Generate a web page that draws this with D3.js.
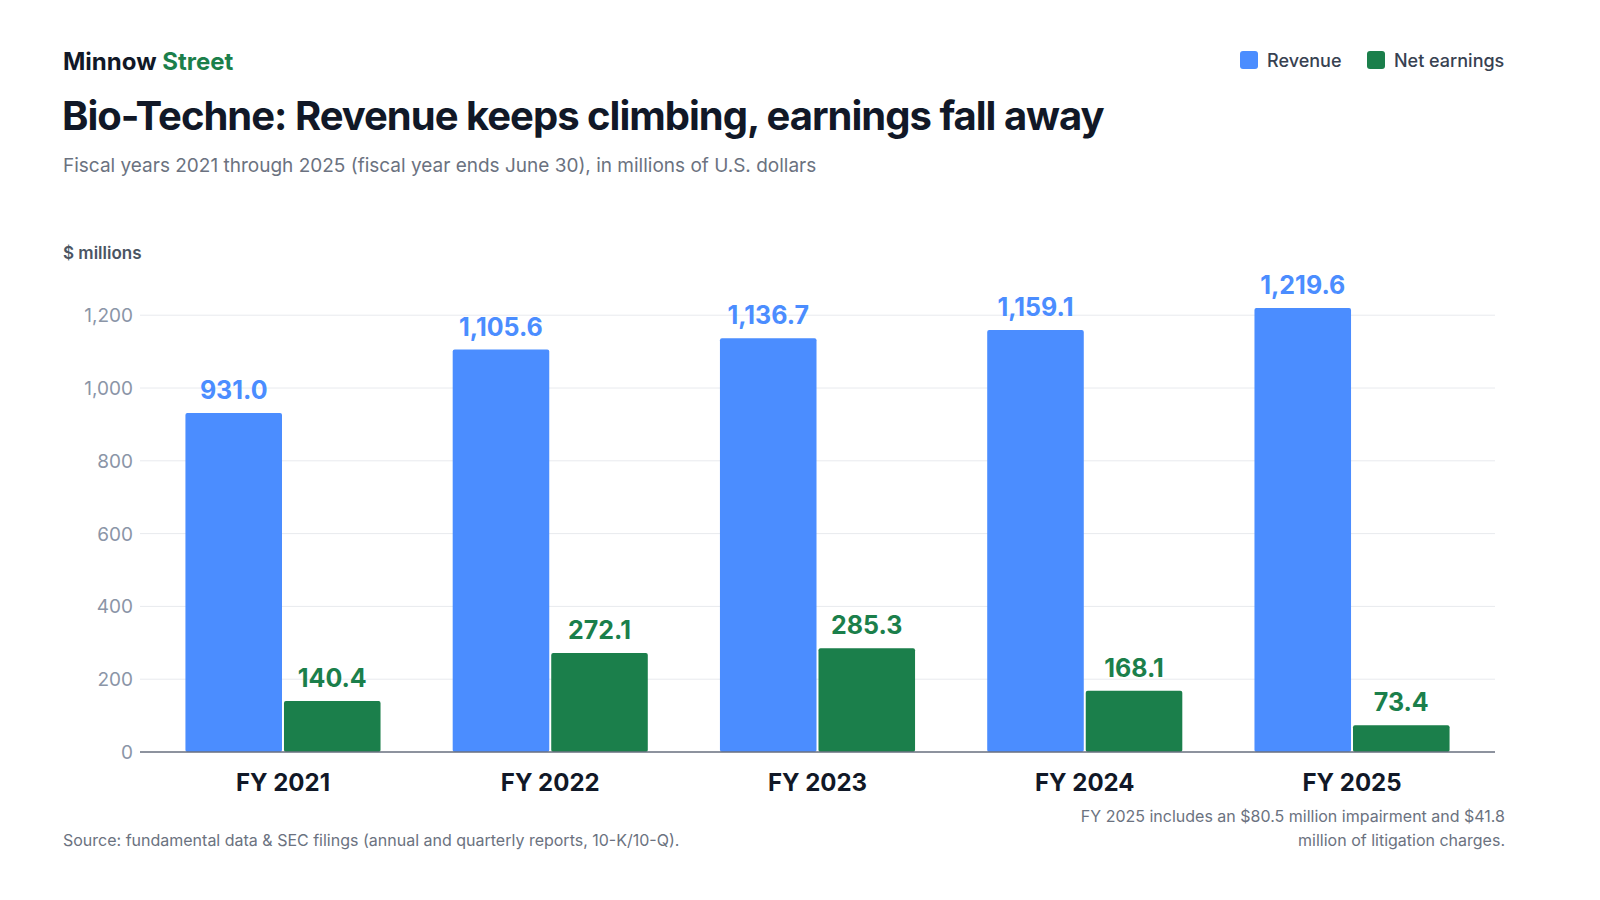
<!DOCTYPE html>
<html><head><meta charset="utf-8">
<script src="https://cdn.jsdelivr.net/npm/d3@7"></script>
<style>body{margin:0;background:#fff;font-family:Inter,"Noto Sans",sans-serif}</style>
</head><body>
<script>
var data = [
  {year: "FY 2021", revenue: 931.0, earnings: 140.4},
  {year: "FY 2022", revenue: 1105.6, earnings: 272.1},
  {year: "FY 2023", revenue: 1136.7, earnings: 285.3},
  {year: "FY 2024", revenue: 1159.1, earnings: 168.1},
  {year: "FY 2025", revenue: 1219.6, earnings: 73.4}
];
var blue = "#4b8dff", green = "#1b7f4b";

var svg = d3.select("body").append("svg").attr("width", 1600).attr("height", 900);

// header
var brand = svg.append("text").attr("x", 63).attr("y", 70).attr("font-size", 24).attr("font-weight", 700);
brand.append("tspan").attr("fill", "#111827").text("Minnow ");
brand.append("tspan").attr("fill", green).text("Street");
svg.append("text").attr("x", 62).attr("y", 130).attr("font-size", 40).attr("font-weight", 700)
  .attr("fill", "#111827").attr("letter-spacing", -1).text("Bio-Techne: Revenue keeps climbing, earnings fall away");
svg.append("text").attr("x", 63).attr("y", 172).attr("font-size", 19).attr("fill", "#6b7280")
  .text("Fiscal years 2021 through 2025 (fiscal year ends June 30), in millions of U.S. dollars");
svg.append("text").attr("x", 63).attr("y", 259).attr("font-size", 17).attr("font-weight", 600).attr("fill", "#4b5563").text("$ millions");

// legend
var legend = [{k: "Revenue", c: blue, x: 1240}, {k: "Net earnings", c: green, x: 1367}];
legend.forEach(function(l) {
  svg.append("rect").attr("x", l.x).attr("y", 51).attr("width", 18).attr("height", 18).attr("rx", 3).attr("fill", l.c);
  svg.append("text").attr("x", l.x + 27).attr("y", 67).attr("font-size", 18).attr("font-weight", 500).attr("fill", "#374151").text(l.k);
});

var margin = {left: 140, right: 1495, top: 297, bottom: 752};
var x0 = d3.scaleBand().domain(data.map(function(d){ return d.year; })).range([margin.left, margin.right]).paddingInner(0.27).paddingOuter(0.17);
var x1 = d3.scaleBand().domain(["revenue", "earnings"]).range([0, x0.bandwidth()]).paddingInner(0.02);
var y = d3.scaleLinear().domain([0, 1250]).range([margin.bottom, margin.top]);

// grid + ticks
y.ticks(5).forEach(function(t) {
  svg.append("line").attr("x1", margin.left).attr("x2", margin.right).attr("y1", y(t)).attr("y2", y(t))
    .attr("stroke", "#e8eaee").attr("stroke-width", 1);
  svg.append("text").attr("x", 133).attr("y", y(t) + 7).attr("text-anchor", "end").attr("font-size", 19)
    .attr("fill", "#8b95a7").text(d3.format(",")(t));
});

var g = svg.selectAll(".grp").data(data).enter().append("g")
  .attr("transform", function(d){ return "translate(" + x0(d.year) + ",0)"; });
[["revenue", blue], ["earnings", green]].forEach(function(s) {
  g.append("rect").attr("x", x1(s[0])).attr("width", x1.bandwidth())
    .attr("y", function(d){ return y(d[s[0]]); })
    .attr("height", function(d){ return y(0) - y(d[s[0]]); })
    .attr("rx", 2).attr("fill", s[1]);
  g.append("text").attr("x", x1(s[0]) + x1.bandwidth() / 2).attr("y", function(d){ return y(d[s[0]]) - 14; })
    .attr("text-anchor", "middle").attr("font-size", 25).attr("font-weight", 700).attr("fill", s[1])
    .text(function(d){ return d3.format(",.1f")(d[s[0]]); });
});

svg.append("line").attr("x1", margin.left).attr("x2", margin.right).attr("y1", y(0)).attr("y2", y(0))
  .attr("stroke", "#6b7280").attr("stroke-width", 1.5);

svg.selectAll(".xl").data(data).enter().append("text")
  .attr("x", function(d){ return x0(d.year) + x0.bandwidth() / 2; }).attr("y", 791)
  .attr("text-anchor", "middle").attr("font-size", 24).attr("font-weight", 700).attr("fill", "#111827")
  .text(function(d){ return d.year; });

// footer
svg.append("text").attr("x", 63).attr("y", 846).attr("font-size", 16).attr("fill", "#6b7280")
  .text("Source: fundamental data & SEC filings (annual and quarterly reports, 10-K/10-Q).");
svg.append("text").attr("x", 1505).attr("y", 822).attr("text-anchor", "end").attr("font-size", 16).attr("fill", "#6b7280")
  .text("FY 2025 includes an $80.5 million impairment and $41.8");
svg.append("text").attr("x", 1505).attr("y", 846).attr("text-anchor", "end").attr("font-size", 16).attr("fill", "#6b7280")
  .text("million of litigation charges.");
</script>
</body></html>
